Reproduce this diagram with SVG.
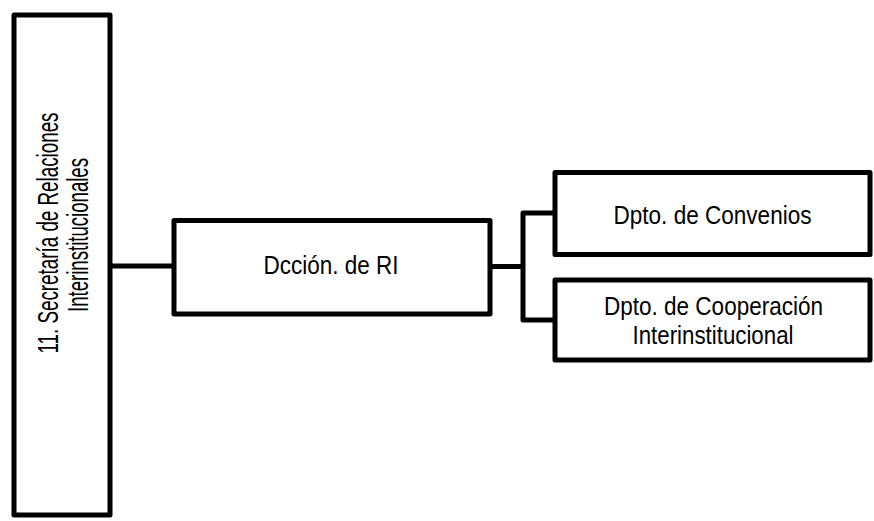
<svg xmlns="http://www.w3.org/2000/svg" width="874" height="521" viewBox="0 0 874 521">
<style>
  .box { fill: #ffffff; stroke: #000000; stroke-width: 5; stroke-linejoin: round; }
  .conn { fill: none; stroke: #000000; stroke-width: 5; stroke-linejoin: round; }
  .lbl { font-family: "Liberation Sans Narrow", "Liberation Sans", Arial, sans-serif; font-size: 26.5px; fill: #000000; text-anchor: middle; }
  .vlbl { font-family: "Liberation Sans Narrow", "Liberation Sans", Arial, sans-serif; font-size: 29px; fill: #000000; text-anchor: middle; }
</style>
<rect width="874" height="521" fill="#ffffff"/>
<g id="connectors">
  <path class="conn" d="M110 266 H174"/>
  <path class="conn" d="M490 266.5 H523"/>
  <path class="conn" d="M555 213 H523 V320 H555"/>
</g>
<g id="node-secretaria">
  <rect class="box" x="14" y="15" width="96" height="500"/>
  <text class="vlbl" transform="translate(58,233) rotate(-90)" x="0" y="0" textLength="241" lengthAdjust="spacingAndGlyphs">11. Secretaría de Relaciones</text>
  <text class="vlbl" transform="translate(88,235) rotate(-90)" x="0" y="0" textLength="154" lengthAdjust="spacingAndGlyphs">Interinstitucionales</text>
</g>
<g id="node-direccion">
  <rect class="box" x="174" y="220.5" width="316" height="93.5"/>
  <text class="lbl" x="331" y="274" textLength="135" lengthAdjust="spacingAndGlyphs">Dcción. de RI</text>
</g>
<g id="node-convenios">
  <rect class="box" x="555" y="172.5" width="315" height="82"/>
  <text class="lbl" x="712.5" y="223.5" textLength="198" lengthAdjust="spacingAndGlyphs">Dpto. de Convenios</text>
</g>
<g id="node-cooperacion">
  <rect class="box" x="555" y="280" width="315" height="80"/>
  <text class="lbl" x="713.5" y="315" textLength="219" lengthAdjust="spacingAndGlyphs">Dpto. de Cooperación</text>
  <text class="lbl" x="713" y="344" textLength="161" lengthAdjust="spacingAndGlyphs">Interinstitucional</text>
</g>
</svg>
